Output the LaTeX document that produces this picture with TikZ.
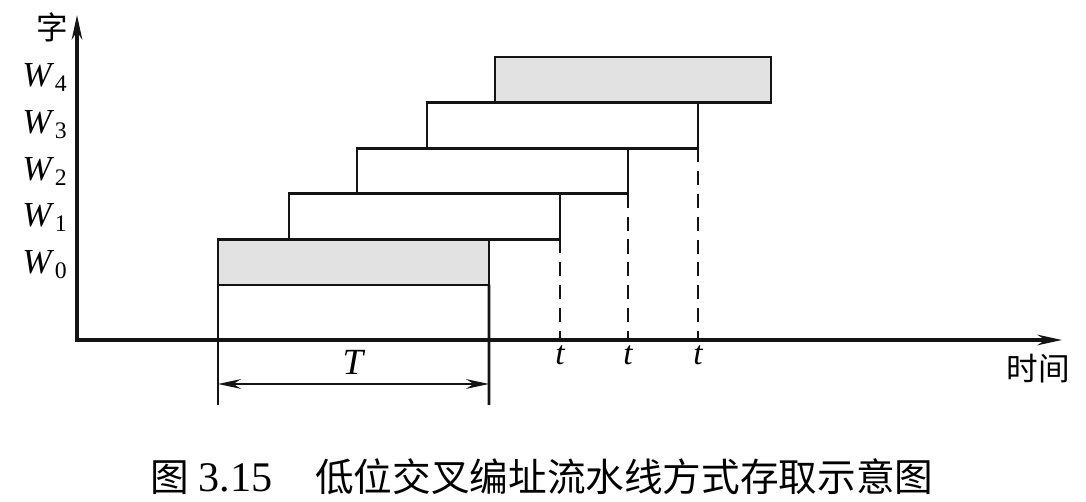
\documentclass[tikz,border=0pt]{standalone}
\usepackage{fontspec}
\setmainfont{Liberation Serif}
\newfontfamily\cjk{Noto Sans CJK SC}
\usetikzlibrary{arrows.meta,calc}
\definecolor{ILInk}{HTML}{141414}
\definecolor{ILShade}{HTML}{E2E2E2}
\newcommand\wname[1]{\textit{W}\kern0.3pt\raisebox{-2.8pt}{\fontsize{13.5}{14}\selectfont #1}}
\tikzset{
  wordbox/.style={draw=ILInk,line width=1.6pt,rectangle,inner sep=0pt,outer sep=0pt,anchor=south west,minimum width=5.42cm,minimum height=0.912cm},
  shadebox/.style={wordbox,fill=ILShade},
  axisline/.style={draw=ILInk,line width=1.9pt,line join=miter,{Stealth[length=14pt,width=6pt]}-{Stealth[length=14pt,width=6pt]}},
  dashline/.style={draw=ILInk,line width=1.5pt,dash pattern=on 8pt off 5pt},
  dimline/.style={draw=ILInk,line width=1.4pt,{Stealth[length=13pt,width=5.5pt]}-{Stealth[length=13pt,width=5.5pt]}},
  extline/.style={draw=ILInk,line width=1.6pt},
  wlabel/.style={anchor=base east,inner sep=0pt,font=\fontsize{20}{22}\selectfont},
  tlabel/.style={anchor=base,inner sep=0pt,font=\fontsize{19}{22}\selectfont\itshape},
  cjklabel/.style={inner sep=0pt,font=\fontsize{18}{21}\selectfont\cjk},
}
\begin{document}
\begin{tikzpicture}[x=0.02cm,y=0.02cm]
\path[use as bounding box] (0,0) rectangle (1086,502);
\coordinate (O) at (77,162);
\coordinate (ytop) at (77,487);
\coordinate (xend) at (1062,162);
\draw[axisline] (ytop) -- (O) -- (xend);
\node[shadebox] (w0) at (218,217) {};
\node[wordbox] (w1) at (289,262.6) {};
\node[wordbox] (w2) at (357,308.2) {};
\node[wordbox] (w3) at (427,353.8) {};
\node[shadebox,minimum width=5.52cm] (w4) at (495,399.4) {};
\coordinate (Ta) at (218,97);
\coordinate (Tb) at (489,97);
\draw[extline] (w0.south west) -- (Ta);
\draw[extline] (w0.south east) -- (Tb);
\coordinate (t1) at (w1.south east |- O);
\coordinate (t2) at (w2.south east |- O);
\coordinate (t3) at (w3.south east |- O);
\draw[dashline] (w1.south east) -- (t1);
\draw[dashline] (w2.south east) -- (t2);
\draw[dashline] (w3.south east) -- (t3);
\coordinate (Tl) at (218,118);
\coordinate (Tr) at (489,118);
\draw[dimline] (Tl) -- (Tr);
\node[tlabel,font=\fontsize{21}{24}\selectfont\itshape] (Tname) at (353,127) {T};
\node[tlabel] (tname1) at ($(t1)+(0,-25)$) {t};
\node[tlabel] (tname2) at ($(t2)+(0,-25)$) {t};
\node[tlabel] (tname3) at ($(t3)+(0,-25)$) {t};
\node[cjklabel] (zi) at (52,475) {字};
\node[wlabel] (lw4) at (67,415) {\wname{4}};
\node[wlabel] (lw3) at (67,368) {\wname{3}};
\node[wlabel] (lw2) at (67,321) {\wname{2}};
\node[wlabel] (lw1) at (67,275) {\wname{1}};
\node[wlabel] (lw0) at (67,228) {\wname{0}};
\node[cjklabel] (shijian) at (1038,133) {时间};
\node[inner sep=0pt,font=\fontsize{22}{26}\selectfont] (caption) at (542,25) {{\cjk 图} {\fontsize{24}{26}\selectfont 3.15}\hspace{1.1em}{\cjk 低位交叉编址流水线方式存取示意图}};
\end{tikzpicture}
\end{document}
